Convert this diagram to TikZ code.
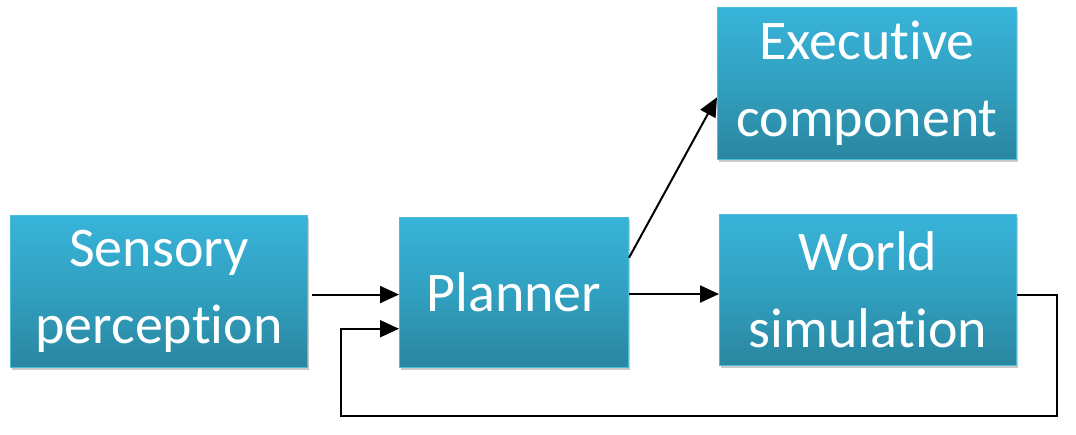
\documentclass[tikz,border=0pt]{standalone}
\usepackage{fontspec}
\setmainfont{Carlito}[Ligatures=NoCommon]
\usetikzlibrary{shadows,calc,arrows.meta}
\definecolor{boxtop}{HTML}{38B4D9}
\definecolor{boxmid}{HTML}{31A0C0}
\definecolor{boxbot}{HTML}{2A869F}
\definecolor{boxline}{HTML}{4DBBDA}
\tikzset{
  blk/.style={draw=boxline, line width=1pt, rectangle, anchor=north west,
    top color=boxtop, bottom color=boxbot, middle color=boxmid,
    text=white, align=center, inner sep=0pt,
    font=\fontsize{56}{77}\selectfont,
    drop shadow={shadow xshift=1.5pt, shadow yshift=-3pt, opacity=0.35, fill=black!60}},
  arr/.style={line width=2pt, -{Triangle[length=19pt,width=17pt]}}
}
\begin{document}
\begin{tikzpicture}[x=1pt,y=-1pt]
\useasboundingbox (0,0) rectangle (1076,435);
\node[blk, minimum width=297pt, minimum height=152pt] (s) at (10,215) {Sensory\\perception};
\node[blk, minimum width=229pt, minimum height=150pt] (p) at (399,217) {Planner};
\node[blk, minimum width=299pt, minimum height=152pt] (e) at (717,7) {Executive\\component};
\node[blk, minimum width=297pt, minimum height=151pt] (w) at (719,214) {World\\simulation};
% sensory -> planner
\coordinate (s1) at ($(s.north east)!0.52!(s.south east)+(4,0)$);
\draw[arr] (s1) -- (s1 -| p.west);
% planner -> executive
\coordinate (p1) at ($(p.north east)!0.27!(p.south east)$);
\coordinate (e1) at ($(e.north west)!0.59!(e.south west)$);
\draw[arr] (p1) -- (e1);
% planner -> world
\coordinate (p2) at ($(p.north east)!0.51!(p.south east)$);
\draw[arr] (p2) -- (p2 -| w.west);
% feedback
\coordinate (w1) at ($(w.north east)!0.53!(w.south east)$);
\coordinate (fr) at (1057,0);
\coordinate (fb) at (0,416);
\coordinate (fl) at (341,0);
\coordinate (p3) at ($(p.north west)!0.74!(p.south west)$);
\draw[arr] (w1) -- (w1 -| fr) -- (fr |- fb) -- (fl |- fb) -- (fl |- p3) -- (p3);
\end{tikzpicture}
\end{document}
